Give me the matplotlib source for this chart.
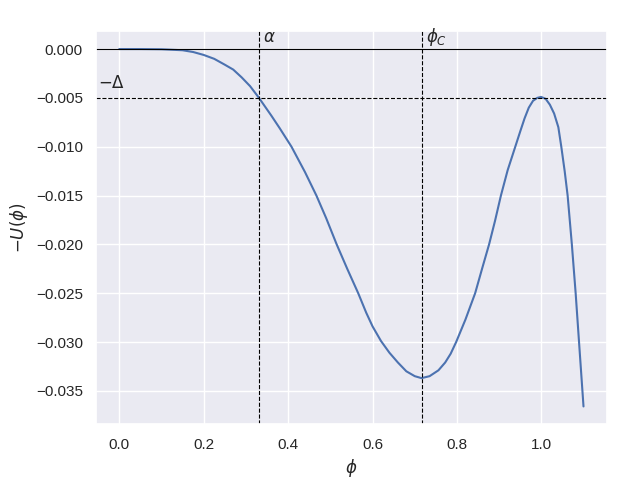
import numpy as np
import matplotlib
matplotlib.use("Agg")
import matplotlib.pyplot as plt
import seaborn as sns

# values
phi = [0.0, 0.05, 0.10, 0.15, 0.175, 0.20, 0.225, 0.25, 0.27, 0.29, 0.31,
       0.331, 0.36, 0.38, 0.408, 0.44, 0.467, 0.49, 0.515, 0.54, 0.566,
       0.585, 0.60, 0.62, 0.64, 0.66, 0.68, 0.70, 0.716, 0.735, 0.756,
       0.772, 0.785, 0.798, 0.82, 0.843, 0.86, 0.876, 0.89, 0.904, 0.92,
       0.938, 0.95, 0.96, 0.97, 0.98, 0.99, 0.999, 1.01, 1.02, 1.03, 1.04,
       1.047, 1.055, 1.062, 1.072, 1.081, 1.089, 1.0996]
minus_U = [0.0, 0.0, -0.00002, -0.00012, -0.0003, -0.0006, -0.001, -0.0016,
           -0.0021, -0.0029, -0.0038, -0.0050, -0.0068, -0.0081, -0.0100,
           -0.0126, -0.0150, -0.0173, -0.0200, -0.0225, -0.0250, -0.0270,
           -0.0284, -0.0299, -0.0311, -0.0321, -0.0330, -0.0335, -0.0337,
           -0.0335, -0.0329, -0.0321, -0.0312, -0.0300, -0.0277, -0.0250,
           -0.0224, -0.0200, -0.0176, -0.0150, -0.0124, -0.0100, -0.0084,
           -0.0071, -0.0060, -0.0053, -0.0050, -0.0049, -0.0051, -0.0057,
           -0.0066, -0.0080, -0.0100, -0.0125, -0.0150, -0.0200, -0.0250,
           -0.0300, -0.0366]

delta = 0.005
alpha = 0.331
phi_c = 0.717

sns.set_theme()
plt.rcParams['font.family'] = ['Liberation Sans', 'DejaVu Sans']

fig, ax = plt.subplots(figsize=(6.4, 4.8), dpi=100)

ax.plot(phi, minus_U)
ax.axhline(0, color='black', linewidth=0.8)
ax.axhline(-delta, color='black', linestyle='--', linewidth=0.8)
ax.axvline(alpha, color='black', linestyle='--', linewidth=0.8)
ax.axvline(phi_c, color='black', linestyle='--', linewidth=0.8)

ax.text(alpha + 0.009, 0.0007, r'$\alpha$', fontsize=12)
ax.text(phi_c + 0.009, 0.0007, r'$\phi_C$', fontsize=12)
ax.text(-0.05, -0.004, r'$-\Delta$', fontsize=12)

ax.set_xlabel(r'$\phi$')
ax.set_ylabel(r'$-U(\phi)$')

plt.subplots_adjust(left=0.15, right=0.948, top=0.935, bottom=0.116)
plt.savefig('out.png')
